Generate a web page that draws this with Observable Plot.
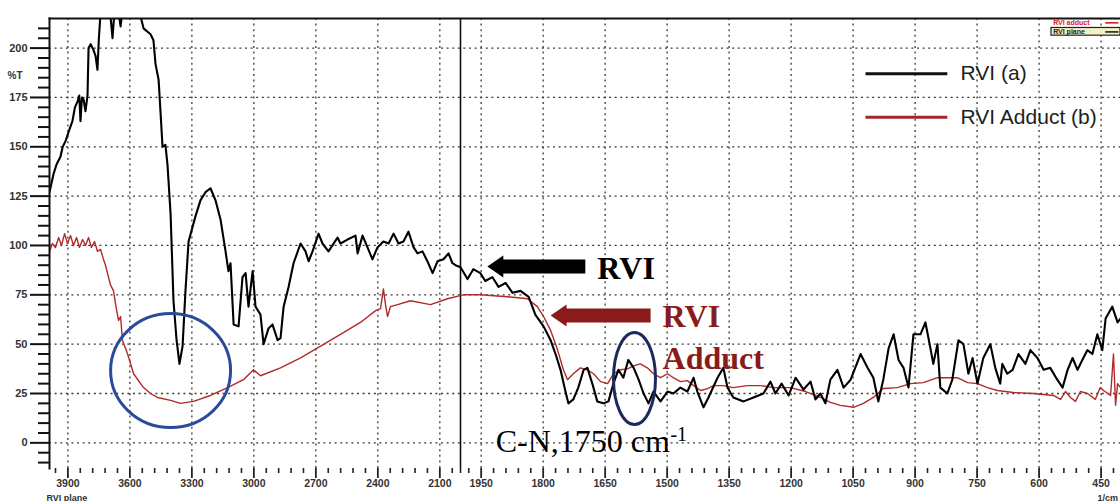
<!DOCTYPE html>
<html><head><meta charset="utf-8">
<script src="https://cdn.jsdelivr.net/npm/d3@7"></script>
<script src="https://cdn.jsdelivr.net/npm/@observablehq/plot@0.6"></script>
<style>
html,body{margin:0;padding:0;background:#fff;}
#chart{width:1120px;height:501px;overflow:hidden;}
#chart svg{display:block;
 background:
  linear-gradient(to right,#b4b4b4 0,#d6d6d6 5px,#8e8e8e 7px,#e6e6e6 8px) 0 11px / 8px 100% no-repeat,
  linear-gradient(to bottom,#fff 0,#fff 11px,#c4c4c4 11px,#e8e8e8 13px,#e6e6e6 100%);
}
</style></head><body><div id="chart"></div>
<script>
// ---- Data (wavenumber in cm-1, %T) ----
const rviWn = [3989,3970,3955,3936,3925,3911,3895,3878,3866,3853,3845,3839,3832,3824,3815,3805,3800,3790,3776,3766,3757,3750,3742,3728,3713,3699,3684,3674,3660,3645,3631,3611,3597,3573,3548,3534,3500,3486,3476,3461,3452,3442,3428,3418,3403,3389,3374,3360,3345,3331,3316,3282,3258,3234,3210,3186,3161,3137,3123,3113,3098,3074,3055,3040,3026,3006,2992,2968,2953,2929,2910,2885,2871,2856,2832,2808,2774,2750,2735,2716,2687,2668,2639,2595,2581,2547,2508,2498,2474,2450,2426,2402,2373,2348,2324,2300,2276,2252,2227,2208,2184,2160,2135,2111,2082,2058,2039,2024,2000,1983,1969,1952,1940,1923,1908,1891,1874,1855,1835,1819,1799,1782,1770,1758,1746,1739,1727,1715,1702,1693,1681,1669,1654,1642,1630,1618,1606,1594,1581,1569,1557,1545,1533,1516,1499,1485,1468,1451,1436,1427,1412,1400,1378,1364,1354,1340,1315,1291,1267,1250,1238,1223,1206,1189,1170,1153,1141,1129,1117,1105,1088,1073,1056,1032,1015,1001,989,977,964,952,940,928,916,904,887,875,863,856,846,839,822,810,795,783,771,761,749,735,718,706,694,689,677,664,650,633,621,604,589,573,556,543,531,519,507,493,483,471,459,447,439,423,410,403];
const rviT = [127,136,141,145,150,153,158,163,170,173,176,163,175,174,168,176,200,202,199,196,189,205,218,222,216,222,205,220,222,211,224,218,223,220,216,210,207,204,192,184,168,150,151,141,116,72,52,40,49,77,102,115,123,127,129,123,113,97,87,91,60,59,84,86,69,87,69,65,50,58,60,52,53,69,79,91,101,97,92,97,106,101,97,104,101,103,105,96,105,99,93,99,102,101,106,101,102,107,99,96,97,92,86,92,93,96,91,90,89,83,88,86,82,84,79,81,76,77,74,65,59,52,45,37,26,20,22,28,37,38,30,21,20,21,30,37,33,42,38,32,25,20,26,21,26,25,28,26,33,26,18,23,33,38,28,23,21,23,25,31,25,30,24,33,27,31,22,25,20,32,37,28,32,45,38,33,21,32,48,55,42,38,28,55,55,61,48,40,50,28,25,32,52,50,35,43,30,43,50,38,30,40,35,37,45,40,47,43,37,38,32,28,37,43,37,43,47,45,55,47,63,69,61,63];

const adductWn = [3989,3975,3960,3945,3931,3916,3902,3887,3873,3858,3844,3829,3815,3800,3786,3771,3757,3742,3728,3718,3694,3679,3669,3655,3645,3636,3611,3582,3534,3500,3466,3403,3355,3292,3210,3127,3050,3002,2968,2871,2774,2677,2581,2484,2411,2387,2373,2363,2353,2339,2305,2242,2145,2063,1993,1952,1886,1838,1814,1799,1782,1765,1751,1741,1727,1710,1693,1678,1661,1644,1630,1613,1596,1581,1565,1548,1533,1516,1499,1485,1468,1451,1436,1419,1402,1388,1364,1340,1306,1274,1243,1202,1165,1129,1105,1081,1049,1025,1001,977,943,911,880,846,822,798,773,749,725,701,662,614,565,548,536,524,512,500,483,464,452,444,427,420,415,410,403];
const adductT = [97,101,99,104,100,106,101,105,100,104,99,103,100,104,99,102,97,98,93,90,80,77,70,62,64,52,45,35,28,25,23,21.5,20,21,24,28,32,37,34,38,43,49,55,61,67,68,78,70,64,69,70,72,70,73,75,75,74,73,69,64,57,47,37,32,35,38,37,35,31,30,35,37,37.5,39,40,38,35,33,35,33,31,31.5,29,26.5,27.5,29,29,28,29,29,28,28,26,23,20.5,19,18,20,23,27.5,28,30,30.5,33,33,33,30.5,30,28,26.5,25.5,25,24,22,26,23,21,26,25,22,28,26.5,24,45,19,30,28];

// ---- Axis ticks ----
const xMajor = [3900,3600,3300,3000,2700,2400,2100,1950,1800,1650,1500,1350,1200,1050,900,750,600,450];
const xMinor = [3960,3840,3780,3720,3660,3540,3480,3420,3360,3240,3180,3120,3060,2940,2880,2820,2760,2640,2580,2520,2460,2340,2280,2220,2160,2040,2000,1980,1920,1890,1860,1830,1770,1740,1710,1680,1620,1590,1560,1530,1470,1440,1410,1380,1320,1290,1260,1230,1170,1140,1110,1080,1020,990,960,930,870,840,810,780,720,690,660,630,570,540,510,480,420];
const yMajor = [0,25,50,75,100,125,150,175,200];
const yMinor = [-10,-5,5,10,15,20,30,35,40,45,55,60,65,70,80,85,90,95,105,110,115,120,130,135,140,145,155,160,165,170,180,185,190,195,205,210];

// ---- Legend (in plot, data coordinates) ----
const legendLabels = ["RVI (a)", "RVI Adduct (b)"];
const legendColors = ["#111111", "#a3262a"];
const legendT = [187, 165];
const legendLineFrom = [1020, 1020];
const legendLineTo = [822, 822];
const legendTextWn = [790, 790];

// ---- Annotations (data coordinates) ----
const breakWn = [2000];
const arrowLabels = ["RVI", "RVI", "Adduct"];
const arrowLabelColors = ["#000000", "#8b1a1a", "#8b1a1a"];
const arrowLabelWn = [1669, 1511, 1511];
const arrowLabelT = [88, 64, 42.5];
const arrowTipWn = [1935, 1782];
const arrowBaseWn = [1902, 1751];
const arrowTailWn = [1698, 1540];
const arrowT = [89.3, 64.5];
const arrowColors = ["#000000", "#8b1a1a"];
const ringWn = [3403, 1579];
const ringT = [36.6, 32.6];
const ringRx = [60, 21];
const ringAspect = [0.95, 2.19];
const ringColors = ["#2a4a9c", "#1c2a5c"];
const noteText = ["C-N,1750 cm"];
const noteWn = [1915];
const noteT = [0.5];
const noteSup = ["-1"];
const noteSupWn = [1492];
const noteSupT = [4];
const miniLabels = ["RVI adduct", "RVI plane"];
const miniColors = ["#d42020", "#222222"];
const miniWn = [566, 566];
const miniT = [212.8, 208.2];
const miniLineFrom = [440, 440];
const miniLineTo = [408, 408];
const miniBoxWn = [570, 403];
const miniBoxT = [206.3, 210.2];

// ---- Custom symbols ----
function ellipseSymbol(k) {
  return {draw(ctx, size) {
    const rx = Math.sqrt(size / Math.PI), ry = rx * k, c = 0.5523;
    ctx.moveTo(rx, 0);
    ctx.bezierCurveTo(rx, ry * c, rx * c, ry, 0, ry);
    ctx.bezierCurveTo(-rx * c, ry, -rx, ry * c, -rx, 0);
    ctx.bezierCurveTo(-rx, -ry * c, -rx * c, -ry, 0, -ry);
    ctx.bezierCurveTo(rx * c, -ry, rx, -ry * c, rx, 0);
    ctx.closePath();
  }};
}
const arrowHead = {draw(ctx, size) {
  const r = Math.sqrt(size / Math.PI);
  ctx.moveTo(0, 0);
  ctx.lineTo(r * 1.45, -r);
  ctx.lineTo(r * 1.45, r);
  ctx.closePath();
}};

const sans = "'Liberation Sans', Arial, sans-serif";
const serif = "'Liberation Serif', 'Times New Roman', serif";
const idx2 = [0, 1];

const chart = Plot.plot({
  width: 1120,
  height: 501,
  marginLeft: 49,
  marginRight: 0,
  marginTop: 18,
  marginBottom: 33,
  style: {fontFamily: sans, background: "transparent", overflow: "visible"},
  x: {type: "linear", domain: [3989, 2000, 403], range: [49, 460, 1120]},
  y: {domain: [-13, 215]},
  marks: [
    Plot.frame({fill: "white", stroke: null}),
    Plot.gridY(yMajor, {stroke: "#3a3a3a", strokeOpacity: 1, strokeWidth: 1.3, strokeDasharray: "2,3.6"}),
    Plot.gridX(xMajor, {stroke: "#3a3a3a", strokeOpacity: 1, strokeWidth: 1.3, strokeDasharray: "2,3.6"}),
    Plot.ruleX(breakWn, {stroke: "#111", strokeWidth: 1.6}),
    Plot.line(adductWn, {x: adductWn, y: adductT, stroke: "#b02a2a", strokeWidth: 1.4, clip: true}),
    Plot.line(rviWn, {x: rviWn, y: rviT, stroke: "#000", strokeWidth: 2.1, strokeLinejoin: "round", clip: true}),
    // in-plot legend
    Plot.link(idx2, {x1: legendLineFrom, x2: legendLineTo, y1: legendT, y2: legendT, stroke: legendColors, strokeWidth: 3}),
    Plot.text(legendLabels, {x: legendTextWn, y: legendT, text: d => d, textAnchor: "start", fontSize: 21, fill: "#1e1e1e", fontFamily: sans}),
    // mini legend top-right
    Plot.rect([0], {x1: miniBoxWn[0], x2: miniBoxWn[1], y1: miniBoxT[0], y2: miniBoxT[1], fill: "#f3efc6", stroke: "#222", strokeWidth: 1.2}),
    Plot.text(miniLabels, {x: miniWn, y: miniT, text: d => d, textAnchor: "start", fontSize: 7, fontWeight: "bold", fill: miniColors}),
    Plot.link(idx2, {x1: miniLineFrom, x2: miniLineTo, y1: miniT, y2: miniT, stroke: miniColors, strokeWidth: 1.6}),
    // arrows
    Plot.link(idx2, {x1: arrowBaseWn, x2: arrowTailWn, y1: arrowT, y2: arrowT, stroke: arrowColors, strokeWidth: 14, strokeLinecap: "butt"}),
    Plot.dot(idx2, {x: arrowTipWn, y: arrowT, r: 11, symbol: arrowHead, fill: arrowColors, stroke: null}),
    Plot.text(arrowLabels, {x: arrowLabelWn, y: arrowLabelT, text: d => d, fill: arrowLabelColors, textAnchor: "start", fontFamily: serif, fontWeight: "bold", fontSize: 32}),
    // rings
    Plot.dot([0], {x: ringWn[0], y: ringT[0], r: ringRx[0], symbol: ellipseSymbol(ringAspect[0]), fill: "none", stroke: ringColors[0], strokeWidth: 3}),
    Plot.dot([1], {x: ringWn[1], y: ringT[1], r: ringRx[1], symbol: ellipseSymbol(ringAspect[1]), fill: "none", stroke: ringColors[1], strokeWidth: 3}),
    // C-N note
    Plot.text(noteText, {x: noteWn, y: noteT, text: d => d, textAnchor: "start", fontFamily: serif, fontSize: 32, fill: "#000"}),
    Plot.text(noteSup, {x: noteSupWn, y: noteSupT, text: d => d, textAnchor: "start", fontFamily: serif, fontSize: 20, fill: "#000"}),
    // axes
    Plot.axisY({ticks: yMinor, tickSize: 11, text: null, stroke: "#111", strokeWidth: 2}),
    Plot.axisY({ticks: yMajor, tickSize: 19, tickPadding: 3, tickFormat: d => String(d), stroke: "#111", strokeWidth: 2, fontSize: 11, fontWeight: "bold", fill: "#333"}),
    Plot.axisX({ticks: xMinor, tickSize: 5, text: null, stroke: "#222", strokeWidth: 1.6}),
    Plot.axisX({ticks: xMajor, tickSize: 10, tickPadding: 1, tickFormat: d => String(d), stroke: "#222", strokeWidth: 1.8, fontSize: 10.5, fontWeight: "bold", fill: "#333"}),
    Plot.frame({anchor: "top", stroke: "#111", strokeWidth: 2}),
    Plot.frame({anchor: "left", stroke: "#111", strokeWidth: 2}),
    Plot.text(["%T"], {text: d => d, frameAnchor: "top-left", dx: -42, dy: 53, textAnchor: "start", fontSize: 10, fontWeight: "bold", fill: "#333"}),
    Plot.text(["RVI plane"], {text: d => d, frameAnchor: "bottom-left", dx: -3, dy: 32, textAnchor: "start", lineAnchor: "bottom", fontSize: 9, fontWeight: "bold", fill: "#333"}),
    Plot.text(["1/cm"], {text: d => d, frameAnchor: "bottom-right", dx: -23, dy: 32, textAnchor: "start", lineAnchor: "bottom", fontSize: 9, fontWeight: "bold", fill: "#333"})
  ]
});
document.getElementById("chart").appendChild(chart);
</script></body></html>
